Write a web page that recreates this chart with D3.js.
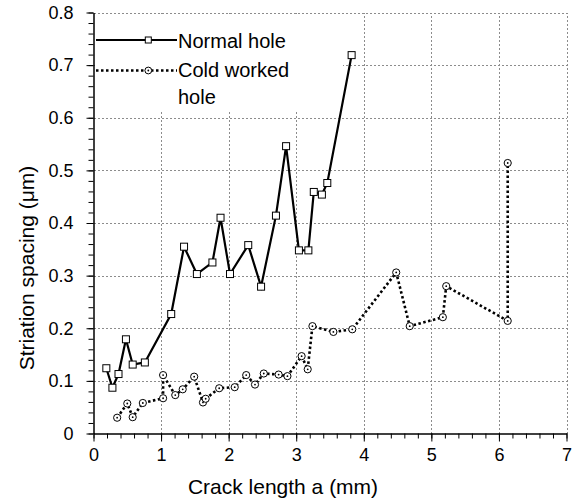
<!DOCTYPE html>
<html><head><meta charset="utf-8">
<script src="https://cdn.jsdelivr.net/npm/d3@7"></script>
<style>body{margin:0;background:#fff}svg{display:block}text{font-family:"Liberation Sans",Arial,sans-serif;fill:#000}</style>
</head><body>
<script>
const normalX = [0.19,0.28,0.37,0.48,0.58,0.76,1.15,1.34,1.53,1.76,1.88,2.02,2.29,2.48,2.70,2.85,3.04,3.18,3.26,3.38,3.46,3.82];
const normalY = [0.124,0.087,0.113,0.179,0.131,0.135,0.227,0.355,0.303,0.325,0.410,0.303,0.358,0.279,0.414,0.546,0.348,0.348,0.459,0.454,0.476,0.719];
const coldX = [0.35,0.50,0.58,0.73,1.03,1.03,1.21,1.32,1.49,1.62,1.66,1.86,2.09,2.26,2.39,2.52,2.74,2.87,3.08,3.17,3.24,3.55,3.83,4.48,4.68,5.17,5.22,6.13,6.13];
const coldY = [0.030,0.057,0.031,0.058,0.067,0.111,0.073,0.084,0.108,0.059,0.066,0.086,0.088,0.111,0.093,0.114,0.112,0.109,0.147,0.122,0.204,0.193,0.198,0.306,0.204,0.221,0.280,0.214,0.514];
const xTicks = [0,1,2,3,4,5,6,7];
const yTicks = [0,0.1,0.2,0.3,0.4,0.5,0.6,0.7,0.8];
const seriesNames = ["Normal hole","Cold worked","hole"];

const W=579,H=502;
const svg=d3.select("body").append("svg").attr("width",W).attr("height",H);
const x=d3.scaleLinear().domain([0,7]).range([93.5,566.5]);
const y=d3.scaleLinear().domain([0,0.8]).range([433.5,12.5]);

// grid
const g=svg.append("g").attr("shape-rendering","crispEdges");
xTicks.filter(d=>d>0).forEach(d=>g.append("line").attr("x1",Math.round(x(d))+0.5).attr("x2",Math.round(x(d))+0.5).attr("y1",y(0)).attr("y2",y(0.8)).attr("stroke","#8c8c8c").attr("stroke-width",1).attr("stroke-dasharray","2,2"));
yTicks.filter(d=>d>0).forEach(d=>g.append("line").attr("x1",x(0)).attr("x2",x(7)).attr("y1",Math.round(y(d))+0.5).attr("y2",Math.round(y(d))+0.5).attr("stroke","#8c8c8c").attr("stroke-width",1).attr("stroke-dasharray","2,2"));
// legend background hides grid behind it (drawn below the data)
svg.append("rect").attr("x",95).attr("y",14).attr("width",248).attr("height",96).attr("fill","#fff");

// minor ticks
const xMinor=d3.range(0,7.001,0.2);
const yMinor=d3.range(0,0.8001,0.02);
svg.append("g").attr("transform",`translate(0,${y(0)})`).call(d3.axisBottom(x).tickValues(xMinor).tickSize(5).tickFormat("")).call(a=>a.select(".domain").remove()).selectAll("line").attr("stroke","#000");
svg.append("g").attr("transform",`translate(${x(0)},0)`).call(d3.axisLeft(y).tickValues(yMinor).tickSize(5).tickFormat("")).call(a=>a.select(".domain").remove()).selectAll("line").attr("stroke","#000");

// major axes
const xa=svg.append("g").attr("transform",`translate(0,${y(0)})`).call(d3.axisBottom(x).tickValues(xTicks).tickSize(8).tickSizeOuter(0).tickPadding(7).tickFormat(d3.format("d")));
const ya=svg.append("g").attr("transform",`translate(${x(0)},0)`).call(d3.axisLeft(y).tickValues(yTicks).tickSize(7).tickSizeOuter(0).tickPadding(13).tickFormat(d=>d===0?"0":d3.format(".1f")(d)));
[xa,ya].forEach(a=>{a.selectAll("text").style("font-size","18px").attr("font-family","Liberation Sans, Arial, sans-serif").attr("fill","#000");a.selectAll("line").attr("stroke","#000");a.select(".domain").attr("stroke","#000").attr("stroke-width",1.5);});

// lines
const nData=normalX.map((v,i)=>[v,normalY[i]]);
const cData=coldX.map((v,i)=>[v,coldY[i]]);
const line=d3.line().x(d=>x(d[0])).y(d=>y(d[1]));
svg.append("path").datum(cData).attr("d",line).attr("fill","none").attr("stroke","#000").attr("stroke-width",2.6).attr("stroke-dasharray","2.5,2.5");
svg.append("path").datum(nData).attr("d",line).attr("fill","none").attr("stroke","#000").attr("stroke-width",2.2);
svg.selectAll(".sq").data(nData).enter().append("rect").attr("x",d=>x(d[0])-3.5).attr("y",d=>y(d[1])-3.5).attr("width",7).attr("height",7).attr("fill","#fff").attr("stroke","#000").attr("stroke-width",1);
svg.selectAll(".ci").data(cData).enter().append("circle").attr("cx",d=>x(d[0])).attr("cy",d=>y(d[1])).attr("r",3.6).attr("fill","#fff").attr("stroke","#000").attr("stroke-width",1);
svg.selectAll(".cd").data(cData).enter().append("circle").attr("cx",d=>x(d[0])).attr("cy",d=>y(d[1])).attr("r",0.9).attr("fill","#000");

// legend
const lg=svg.append("g");
lg.append("line").attr("x1",96).attr("x2",177).attr("y1",40).attr("y2",40).attr("stroke","#000").attr("stroke-width",2.2);
lg.append("rect").attr("x",148.3-3).attr("y",40-3).attr("width",6).attr("height",6).attr("fill","#fff").attr("stroke","#000");
lg.append("line").attr("x1",96).attr("x2",177).attr("y1",70.5).attr("y2",70.5).attr("stroke","#000").attr("stroke-width",2.6).attr("stroke-dasharray","2.5,2.5");
lg.append("circle").attr("cx",148.3).attr("cy",70.5).attr("r",3.4).attr("fill","#fff").attr("stroke","#000");
lg.append("circle").attr("cx",148.3).attr("cy",70.5).attr("r",0.9).attr("fill","#000");
lg.append("text").attr("x",178).attr("y",48).style("font-size","20px").text(seriesNames[0]);
lg.append("text").attr("x",178).attr("y",77).style("font-size","20px").text(seriesNames[1]);
lg.append("text").attr("x",178).attr("y",104).style("font-size","20px").text(seriesNames[2]);

// titles
svg.append("text").attr("x",283).attr("y",494).attr("text-anchor","middle").style("font-size","21px").text("Crack length a (mm)");
svg.append("text").attr("transform","translate(34,268) rotate(-90)").attr("text-anchor","middle").style("font-size","21px").text("Striation spacing (μm)");
</script>
</body></html>
